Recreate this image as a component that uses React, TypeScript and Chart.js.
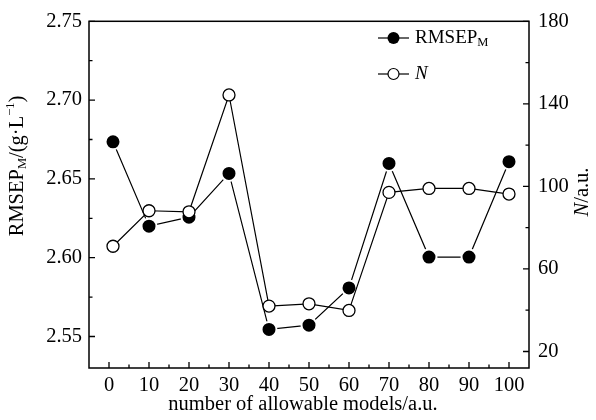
import React, { useEffect, useRef } from "react";
import { Chart, registerables } from "chart.js";

Chart.register(...registerables);

// ---- data ----
const xValues = [1, 10, 20, 30, 40, 50, 60, 70, 80, 90, 100];
const rmsepValues = [2.6735, 2.62, 2.6257, 2.6535, 2.5545, 2.5572, 2.5808, 2.6598, 2.6004, 2.6004, 2.6609];
const nValues = [71.0, 88.2, 87.7, 144.3, 42.0, 43.1, 39.9, 97.1, 99.0, 99.0, 96.3];

const xTicks = [0, 10, 20, 30, 40, 50, 60, 70, 80, 90, 100];
const xMinorTicks = [5, 15, 25, 35, 45, 55, 65, 75, 85, 95];
const leftTicks = [2.55, 2.6, 2.65, 2.7, 2.75];
const leftMinorTicks = [2.575, 2.625, 2.675, 2.725];
const rightTicks = [20, 60, 100, 140, 180];
const rightMinorTicks = [40, 80, 120, 160];

const FONT = '"Liberation Serif", "Times New Roman", serif';
const FS = 20.5;
const LFS = 19;
const SUB = 12.5;

const decorPlugin = {
  id: "decor",
  afterDraw(chart: any) {
    const ctx = chart.ctx as CanvasRenderingContext2D;
    const a = chart.chartArea;
    const sx = chart.scales.x;
    const sy = chart.scales.y;
    const sy1 = chart.scales.y1;
    ctx.save();
    ctx.strokeStyle = "#000";
    ctx.fillStyle = "#000";
    ctx.lineWidth = 1.5;
    ctx.strokeRect(a.left, a.top, a.right - a.left, a.bottom - a.top);

    const major = 6;
    const minor = 3.5;
    ctx.lineWidth = 1.3;
    ctx.beginPath();
    xTicks.forEach((v) => {
      const p = sx.getPixelForValue(v);
      ctx.moveTo(p, a.bottom);
      ctx.lineTo(p, a.bottom - major);
    });
    xMinorTicks.forEach((v) => {
      const p = sx.getPixelForValue(v);
      ctx.moveTo(p, a.bottom);
      ctx.lineTo(p, a.bottom - minor);
    });
    leftTicks.forEach((v) => {
      const p = sy.getPixelForValue(v);
      ctx.moveTo(a.left, p);
      ctx.lineTo(a.left + major, p);
    });
    leftMinorTicks.forEach((v) => {
      const p = sy.getPixelForValue(v);
      ctx.moveTo(a.left, p);
      ctx.lineTo(a.left + minor, p);
    });
    rightTicks.forEach((v) => {
      const p = sy1.getPixelForValue(v);
      ctx.moveTo(a.right, p);
      ctx.lineTo(a.right - major, p);
    });
    rightMinorTicks.forEach((v) => {
      const p = sy1.getPixelForValue(v);
      ctx.moveTo(a.right, p);
      ctx.lineTo(a.right - minor, p);
    });
    ctx.stroke();

    // runs of text: [text, size, yOffset, italic]
    const drawRuns = (runs: [string, number, number, boolean][], cx: number, cy: number, rot: boolean) => {
      ctx.save();
      ctx.translate(cx, cy);
      if (rot) ctx.rotate(-Math.PI / 2);
      ctx.textBaseline = "middle";
      ctx.textAlign = "left";
      let total = 0;
      runs.forEach(([t, s, , it]) => {
        ctx.font = `${it ? "italic " : ""}${s}px ${FONT}`;
        total += ctx.measureText(t).width;
      });
      let x = -total / 2;
      runs.forEach(([t, s, dy, it]) => {
        ctx.font = `${it ? "italic " : ""}${s}px ${FONT}`;
        ctx.fillText(t, x, dy);
        x += ctx.measureText(t).width;
      });
      ctx.restore();
    };

    // x title
    drawRuns([["number of allowable models/a.u.", FS, 0, false]], 303, 405, false);
    // left title
    drawRuns(
      [
        ["RMSEP", FS, 0, false],
        ["M", SUB, 5, false],
        ["/(g\u00b7L", FS, 0, false],
        ["\u22121", SUB, -7, false],
        [")", FS, 0, false],
      ],
      18,
      166,
      true
    );
    // right title
    drawRuns(
      [
        ["N", FS, 0, true],
        ["/a.u.", FS, 0, false],
      ],
      583,
      192,
      true
    );

    // legend
    const lx0 = 378;
    const lx1 = 409;
    const lm = 393.5;
    const rows = [38, 74];
    ctx.lineWidth = 1.2;
    rows.forEach((ry) => {
      ctx.beginPath();
      ctx.moveTo(lx0, ry);
      ctx.lineTo(lx1, ry);
      ctx.stroke();
    });
    ctx.beginPath();
    ctx.arc(lm, rows[0], 6, 0, Math.PI * 2);
    ctx.fillStyle = "#000";
    ctx.fill();
    ctx.beginPath();
    ctx.arc(lm, rows[1], 5.5, 0, Math.PI * 2);
    ctx.fillStyle = "#fff";
    ctx.fill();
    ctx.lineWidth = 1.2;
    ctx.stroke();
    ctx.fillStyle = "#000";
    ctx.textBaseline = "middle";
    ctx.textAlign = "left";
    ctx.font = `${LFS}px ${FONT}`;
    ctx.fillText("RMSEP", 415, rows[0]);
    const w = ctx.measureText("RMSEP").width;
    ctx.font = `${SUB}px ${FONT}`;
    ctx.fillText("M", 415 + w, rows[0] + 5);
    ctx.font = `italic ${LFS}px ${FONT}`;
    ctx.fillText("N", 415, rows[1]);
    ctx.restore();
  },
};

export default function App() {
  const ref = useRef<HTMLCanvasElement | null>(null);
  useEffect(() => {
    if (!ref.current) return;
    const tickFont = { family: FONT, size: FS };
    const chart = new Chart(ref.current, {
      type: "line",
      data: {
        datasets: [
          {
            label: "RMSEP",
            yAxisID: "y",
            data: xValues.map((x, i) => ({ x, y: rmsepValues[i] })),
            borderColor: "#000",
            borderWidth: 1.2,
            pointRadius: 7.5,
            pointBorderWidth: 2,
            pointBackgroundColor: "#000",
            pointBorderColor: "#fff",
            order: 2,
            tension: 0,
          },
          {
            label: "N",
            yAxisID: "y1",
            data: xValues.map((x, i) => ({ x, y: nValues[i] })),
            borderColor: "#000",
            borderWidth: 1.2,
            pointRadius: 6,
            pointBorderWidth: 1.3,
            pointBackgroundColor: "#fff",
            pointBorderColor: "#000",
            order: 1,
            tension: 0,
          },
        ],
      },
      options: {
        animation: false,
        responsive: true,
        maintainAspectRatio: false,
        layout: { padding: { top: 20, left: 0, right: 0, bottom: 0 } },
        plugins: { legend: { display: false }, tooltip: { enabled: false } },
        scales: {
          x: {
            type: "linear",
            position: "bottom",
            min: -5,
            max: 105,
            grid: { display: false, drawTicks: false },
            border: { display: false },
            ticks: { font: tickFont, color: "#000", padding: 5, autoSkip: false, maxRotation: 0 },
            afterBuildTicks: (s: any) => {
              s.ticks = xTicks.map((v) => ({ value: v }));
            },
            afterFit: (s: any) => {
              s.height = 52;
            },
          },
          y: {
            type: "linear",
            position: "left",
            min: 2.53,
            max: 2.75,
            grid: { display: false, drawTicks: false },
            border: { display: false },
            ticks: {
              font: tickFont,
              color: "#000",
              padding: 7,
              callback: (v: any) => Number(v).toFixed(2),
            },
            afterBuildTicks: (s: any) => {
              s.ticks = leftTicks.map((v) => ({ value: v }));
            },
            afterFit: (s: any) => {
              s.width = 89;
            },
          },
          y1: {
            type: "linear",
            position: "right",
            min: 12,
            max: 180,
            grid: { display: false, drawTicks: false },
            border: { display: false },
            ticks: { font: tickFont, color: "#000", padding: 9 },
            afterBuildTicks: (s: any) => {
              s.ticks = rightTicks.map((v) => ({ value: v }));
            },
            afterFit: (s: any) => {
              s.width = 67;
            },
          },
        },
      },
      plugins: [decorPlugin],
    } as any);
    return () => chart.destroy();
  }, []);
  return (
    <div style={{ position: "absolute", left: 0, top: 0, width: 596, height: 420, background: "#fff" }}>
      <canvas ref={ref} />
    </div>
  );
}
